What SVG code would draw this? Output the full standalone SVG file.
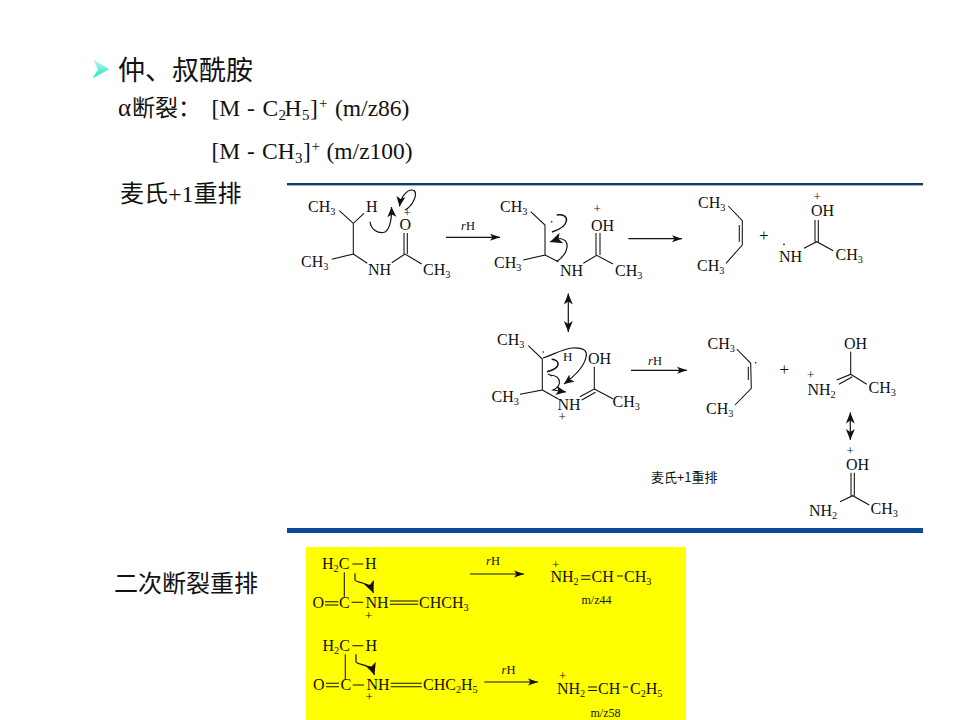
<svg xmlns="http://www.w3.org/2000/svg" width="960" height="720" viewBox="0 0 960 720">
<style>
text{font-family:"Liberation Serif","Noto Sans CJK SC",serif;fill:#111}
.m{font-size:16px}
.n{font-size:13px}
.p{font-size:13px}
.r{font-size:12.5px}
.r tspan.i{font-style:italic}
.s{font-size:.64em}
.h{font-size:23.5px}
.c{font-family:"Noto Sans CJK SC","Liberation Sans",sans-serif;fill:#111}
.b{stroke:#111;stroke-width:1.05;fill:none}
.a{stroke:#111;stroke-width:1.2;fill:none;marker-end:url(#ah)}
.q{stroke:#111;stroke-width:1.5;fill:none}
.t{stroke:#111;stroke-width:1.2;fill:none;marker-end:url(#ch)}
.u{stroke:#111;stroke-width:1.2;fill:none;marker-end:url(#cb)}
.d{stroke:#111;stroke-width:1.2;fill:none;marker-start:url(#as);marker-end:url(#ah2)}
</style>
<defs>
<marker id="ah" markerUnits="userSpaceOnUse" markerWidth="14" markerHeight="10" refX="10" refY="5" orient="auto"><path d="M0,1.5 L10,5 L0,8.5 L2.5,5Z" fill="#111"/></marker>
<marker id="ah2" markerUnits="userSpaceOnUse" markerWidth="12" markerHeight="16" refX="11" refY="5" orient="auto"><path d="M0,0.5 L11,5 L0,9.5 L3,5Z" fill="#111"/></marker>
<marker id="as" markerUnits="userSpaceOnUse" markerWidth="12" markerHeight="16" refX="1" refY="5" orient="auto"><path d="M12,0.5 L1,5 L12,9.5 L9,5Z" fill="#111"/></marker>
<marker id="ch" markerUnits="userSpaceOnUse" markerWidth="14" markerHeight="12" refX="10" refY="5" orient="auto"><path d="M0,0.5 L10,5 L0,9.5 L2.5,5Z" fill="#111"/></marker>
<marker id="cb" markerUnits="userSpaceOnUse" markerWidth="16" markerHeight="14" refX="12" refY="6" orient="auto"><path d="M0,0.5 L12,6 L0,11.5 L3,6Z" fill="#111"/></marker>
<linearGradient id="bg" x1="0" y1="0" x2="0" y2="1"><stop offset="0" stop-color="#c8f7ec"/><stop offset="1" stop-color="#12e6bd"/></linearGradient>
</defs>
<rect width="960" height="720" fill="#fff"/>
<rect x="306" y="547" width="380" height="173" fill="#ffff00"/>
<rect x="287" y="183" width="636" height="2.4" fill="#113a6e"/>
<rect x="287" y="528" width="636" height="5" fill="#0b4a96"/>

<g id="heading">
<polygon points="92.7,59.3 109.3,69.3 92.7,78.3 98,69.3" fill="url(#bg)"/>
<text class="c" x="118" y="80" font-size="27">仲、叔酰胺</text>
<text x="118" y="116" font-size="25">α</text>
<text class="c" x="132" y="116" font-size="23">断裂：</text>
<text class="h" x="211.5" y="116">[M<tspan x="247">-</tspan><tspan x="262.5">C</tspan><tspan class="s" dy="4" x="278.5">2</tspan><tspan dy="-4" x="284.5">H</tspan><tspan class="s" dy="4" x="302">5</tspan><tspan dy="-4" x="310">]</tspan><tspan class="s" dy="-8" x="319">+</tspan><tspan dy="8" x="335">(m/z86)</tspan></text>
<text class="h" x="211.5" y="159">[M<tspan x="247">-</tspan><tspan x="262">CH</tspan><tspan class="s" dy="4" x="295">3</tspan><tspan dy="-4" x="303">]</tspan><tspan class="s" dy="-8" x="311.5">+</tspan><tspan dy="8" x="326.5">(m/z100)</tspan></text>
<text x="120" y="202" font-size="24">麦氏+1重排</text>
<text class="c" x="114" y="592" font-size="24">二次断裂重排</text>
</g>

<g id="mol-1">
<path class="b" d="M339.3,210.7 L353.3,223.3 L364,213.3 M353.3,223.3 V254 L331.7,259.3 M353.3,254 L367.3,263.3 M391.7,262.7 L405,254 L421.7,264 M404,233 V254 M407.3,233 V254"/>
<text class="m" x="308" y="212">CH<tspan class="s" dy="3">3</tspan></text>
<text class="m" x="366" y="212">H</text>
<text class="m" x="301" y="267">CH<tspan class="s" dy="3">3</tspan></text>
<text class="m" x="368" y="275">NH</text>
<text class="m" x="423" y="275">CH<tspan class="s" dy="3">3</tspan></text>
<text class="m" x="399.5" y="230">O</text>
<text class="p" x="403.5" y="216.5">+</text>
</g>

<g id="mol-2">
<path class="b" d="M530.7,211.7 L545,225 V255 L523.3,260 M545,255 L558.3,261.7 M583.3,263.3 L596.7,255.3 L613,264 M596,233 V255 M600,233 V255"/>
<text class="m" x="500" y="212">CH<tspan class="s" dy="3">3</tspan></text>
<text class="m" x="494" y="268">CH<tspan class="s" dy="3">3</tspan></text>
<text class="m" x="560" y="276">NH</text>
<text class="m" x="615" y="276">CH<tspan class="s" dy="3">3</tspan></text>
<text class="m" x="591" y="231">OH</text>
<text class="p" x="593.5" y="213">+</text>
<circle cx="551.7" cy="221.7" r=".8" fill="#111"/>
</g>

<g id="mol-3">
<path class="b" d="M728.3,206 L742.3,220.7 V245 L726,263.3 M739.3,225 V241.7"/>
<text class="m" x="698" y="208">CH<tspan class="s" dy="3">3</tspan></text>
<text class="m" x="697" y="271">CH<tspan class="s" dy="3">3</tspan></text>
</g>
<g id="plus-1"><text x="759" y="241" font-size="17">+</text></g>
<g id="mol-4">
<path class="b" d="M804,248.3 L816.7,241.7 L833.3,250.7 M815,220 V241.7 M818.3,220 V241.7"/>
<text class="m" x="779" y="262">NH</text>
<circle cx="784" cy="244.3" r=".9" fill="#111"/>
<text class="m" x="811" y="216">OH</text>
<text class="p" x="813.5" y="201">+</text>
<text class="m" x="835.5" y="260">CH<tspan class="s" dy="3">3</tspan></text>
</g>

<g id="mol-5">
<path class="b" d="M528.3,345.7 L542.3,359 V390 L520,394.3 M542.3,390 L558.3,399 M594.3,366.7 V389 L580,396.7 M595.5,392.3 L581.7,400 M594.3,389 L613.3,399"/>
<text class="m" x="497" y="345">CH<tspan class="s" dy="3">3</tspan></text>
<text class="m" x="491.5" y="402">CH<tspan class="s" dy="3">3</tspan></text>
<text class="m" x="557.5" y="410">NH</text>
<text class="p" x="558.5" y="421">+</text>
<text class="n" x="563" y="361">H</text>
<text class="m" x="588" y="364">OH</text>
<text class="m" x="612.5" y="407">CH<tspan class="s" dy="3">3</tspan></text>
<circle cx="543.3" cy="352" r=".8" fill="#111"/>
</g>

<g id="mol-6">
<path class="b" d="M736.7,349 L750.7,363.3 L751.3,388.3 L735,405 M748.3,366.7 V380"/>
<circle cx="755.7" cy="362.7" r=".8" fill="#111"/>
<text class="m" x="707.5" y="349">CH<tspan class="s" dy="3">3</tspan></text>
<text class="m" x="706" y="414">CH<tspan class="s" dy="3">3</tspan></text>
</g>
<g id="plus-2"><text x="779.5" y="375" font-size="17">+</text></g>
<g id="mol-7">
<path class="b" d="M850.7,351.7 V374.3 L836.7,380 M852.3,376.7 L839,384.3 M850.7,374.3 L866.7,384.3"/>
<text class="p" x="807" y="379">+</text>
<text class="m" x="807.5" y="395">NH<tspan class="s" dy="3">2</tspan></text>
<text class="m" x="844" y="349">OH</text>
<text class="m" x="868.5" y="393">CH<tspan class="s" dy="3">3</tspan></text>
</g>
<g id="mol-8">
<path class="b" d="M851,472.7 V495.7 M854.3,472.7 V495.7 M840,501.7 L852.7,495.7 L869.3,505"/>
<text class="p" x="846.5" y="455">+</text>
<text class="m" x="846" y="470">OH</text>
<text class="m" x="809" y="516">NH<tspan class="s" dy="3">2</tspan></text>
<text class="m" x="870.5" y="514">CH<tspan class="s" dy="3">3</tspan></text>
</g>
<g id="caption"><text class="c" x="651" y="482" font-size="13">麦氏+1重排</text></g>

<g id="mol-9">
<path class="b" d="M352.3,564 H363.3 M344.3,572.3 V596.7 M325,601.7 H338.3 M325,605 H338.3 M351.7,602.3 H363.3 M390,601 H418.3 M390,604.3 H418.3"/>
<text class="m" x="322" y="569">H<tspan class="s" dy="3">2</tspan><tspan dy="-3">C</tspan></text>
<text class="m" x="365" y="569">H</text>
<text class="m" x="312.5" y="608">O</text>
<text class="m" x="339" y="608">C</text>
<text class="m" x="365.5" y="608">NH</text>
<text class="m" x="419" y="608">CHCH<tspan class="s" dy="3">3</tspan></text>
<text class="p" x="365" y="620">+</text>
</g>
<g id="mol-10">
<path class="b" d="M352.3,645.7 H363.3 M345.3,654.3 V679 M326,683.3 H339 M326,686.7 H339 M352.7,685 H364 M390.7,683.3 H421.7 M390.7,686.7 H421.7"/>
<text class="m" x="322.5" y="651">H<tspan class="s" dy="3">2</tspan><tspan dy="-3">C</tspan></text>
<text class="m" x="365.5" y="651">H</text>
<text class="m" x="313" y="690">O</text>
<text class="m" x="340.5" y="690">C</text>
<text class="m" x="366.5" y="690">NH</text>
<text class="m" x="423" y="690">CHC<tspan class="s" dy="3">2</tspan><tspan dy="-3">H</tspan><tspan class="s" dy="3">5</tspan></text>
<text class="p" x="365.5" y="701">+</text>
</g>
<g id="prod-1">
<path class="b" d="M581,575.7 H590.5 M581,579.3 H590.5 M617,576 H623"/>
<text class="p" x="552" y="569">+</text>
<text class="m" x="550.5" y="582">NH<tspan class="s" dy="3">2</tspan></text>
<text class="m" x="591.5" y="582">CH</text>
<text class="m" x="624" y="582">CH<tspan class="s" dy="3">3</tspan></text>
<text x="581.5" y="604" font-size="12">m/z44</text>
</g>
<g id="prod-2">
<path class="b" d="M588,687 H597 M588,690.5 H597 M623,687 H628"/>
<text class="p" x="559" y="680">+</text>
<text class="m" x="557" y="693.5">NH<tspan class="s" dy="3">2</tspan></text>
<text class="m" x="598" y="693.5">CH</text>
<text class="m" x="630" y="693.5">C<tspan class="s" dy="3">2</tspan><tspan dy="-3">H</tspan><tspan class="s" dy="3">5</tspan></text>
<text x="590.5" y="717" font-size="12">m/z58</text>
</g>

<g id="connectors">
<line class="a" x1="446" y1="237.3" x2="500" y2="237.3"/>
<line class="a" x1="628.3" y1="238.7" x2="682" y2="238.7"/>
<line class="d" x1="568.3" y1="293.5" x2="568.3" y2="332"/>
<line class="a" x1="631" y1="370.3" x2="687" y2="370.3"/>
<line class="d" x1="850.3" y1="412.5" x2="850.3" y2="440"/>
<line class="a" x1="470" y1="574" x2="524" y2="574"/>
<line class="a" x1="484.3" y1="682" x2="538" y2="682"/>
<path class="t" d="M370,221.7 C371,230 378,233 383,232.5 C389,232 392,221 391.5,207"/>
<path class="t" d="M405,210 C413,206 418,194 414,190.5 C408,188 401,196 399.5,206.5"/>
<path class="q" d="M556.7,215 C570,213 571,226 552,232"/>
<path class="u" d="M556.7,261.7 C570,252 570,240 560,238.5 L550,242"/>
<path class="t" d="M543,358 C555,354 560,350 572,348 C582,347 588,350 586,357 C584,368 572,378 564,384"/>
<path class="q" d="M551.7,359.3 C560,360 562,368 547,371.7"/>
<path class="t" d="M552,376 L548,374 M550,375 C562,376 562,386 553,390 L566,392"/>
<path class="u" d="M355,573.3 V580 C358,584 368,580 373.5,593"/>
<path class="u" d="M356,654.3 V661.7 C358,666 370,662 374.5,675"/>
</g>
<g id="connector-labels">
<text class="r" x="461" y="230"><tspan class="i">r</tspan>H</text>
<text class="r" x="648" y="365"><tspan class="i">r</tspan>H</text>
<text class="r" x="486" y="565"><tspan class="i">r</tspan>H</text>
<text class="r" x="501.5" y="674"><tspan class="i">r</tspan>H</text>
</g>
</svg>
